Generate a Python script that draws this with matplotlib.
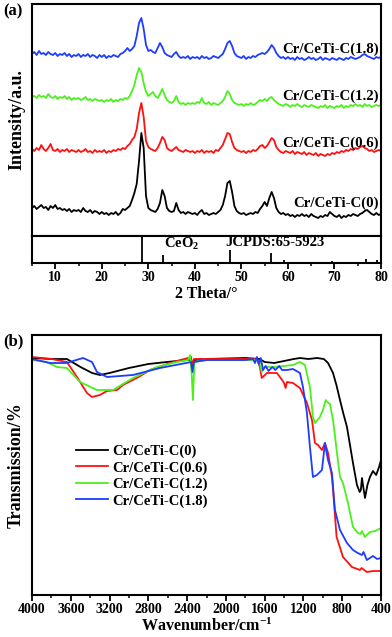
import numpy as np
import matplotlib
matplotlib.use("Agg")
import matplotlib.pyplot as plt

plt.rcParams["font.family"] = ["Liberation Serif", "DejaVu Serif"]
plt.rcParams["font.weight"] = "bold"
plt.rcParams["mathtext.fontset"] = "custom"
plt.rcParams["mathtext.rm"] = "Liberation Serif:bold"
plt.rcParams["mathtext.it"] = "Liberation Serif:bold"

# ---------------- (a) XRD ----------------
two_theta = np.linspace(5, 80, 151)  # 0.5 degree steps

xrd_0 = [28, 30, 27, 29, 31, 28, 29, 26, 30, 28,
         31, 27, 28, 26, 27, 25, 27, 24, 26, 25,
         26, 24, 28, 25, 24, 26, 23, 25, 24, 22,
         24, 22, 23, 21, 23, 22, 24, 21, 23, 27,
         26, 28, 30, 36, 43, 52, 75, 103, 88, 40,
         28, 26, 25, 24, 27, 33, 46, 40, 28, 25,
         24, 25, 33, 26, 23, 24, 22, 24, 23, 22,
         23, 21, 24, 26, 22, 23, 21, 22, 23, 22,
         24, 26, 31, 40, 53, 55, 44, 30, 25, 23,
         22, 23, 21, 22, 23, 22, 24, 23, 27, 30,
         34, 30, 38, 44, 38, 28, 24, 22, 23, 21,
         22, 20, 21, 19, 21, 20, 22, 20, 21, 19,
         22, 20, 19, 18, 20, 19, 21, 20, 24, 22,
         20, 19, 21, 18, 20, 19, 21, 20, 22, 21,
         20, 22, 23, 25, 26, 24, 22, 21, 23, 21,
         22]
xrd_06 = [26, 24, 27, 25, 30, 26, 24, 27, 31, 25,
          24, 26, 23, 25, 24, 26, 23, 25, 24, 23,
          25, 23, 24, 26, 23, 24, 22, 25, 23, 24,
          23, 25, 22, 24, 23, 25, 24, 26, 25, 27,
          26, 29, 31, 35, 38, 46, 62, 72, 58, 34,
          28, 26, 25, 24, 27, 32, 38, 35, 27, 25,
          24, 26, 28, 25, 24, 23, 25, 24, 23, 24,
          22, 24, 23, 25, 22, 24, 23, 24, 22, 25,
          24, 27, 30, 36, 42, 41, 33, 27, 25, 24,
          23, 24, 22, 24, 23, 25, 24, 26, 29, 30,
          27, 29, 33, 37, 35, 28, 25, 23, 22, 24,
          23, 22, 24, 21, 23, 22, 21, 23, 20, 22,
          21, 20, 22, 19, 21, 20, 19, 21, 20, 22,
          21, 23, 22, 24, 23, 25, 24, 26, 25, 27,
          26, 28, 29, 27, 26, 24, 25, 23, 24, 25,
          24]
xrd_12 = [30, 31, 29, 32, 30, 31, 29, 33, 30, 29,
          31, 28, 30, 29, 31, 28, 30, 27, 29, 28,
          29, 27, 28, 30, 27, 28, 26, 28, 27, 26,
          27, 25, 27, 26, 28, 25, 27, 26, 28, 27,
          29, 28, 31, 36, 42, 52, 59, 55, 44, 35,
          31, 33, 35, 31, 29, 33, 38, 32, 27, 25,
          24, 26, 31, 25, 23, 24, 22, 24, 23, 24,
          23, 25, 24, 29, 24, 23, 25, 22, 24, 23,
          22, 24, 26, 30, 36, 33, 27, 24, 23, 22,
          23, 21, 23, 22, 24, 22, 23, 25, 27, 26,
          28, 26, 29, 30, 27, 25, 23, 22, 21, 23,
          22, 20, 22, 21, 23, 21, 20, 22, 21, 20,
          22, 21, 20, 19, 21, 20, 22, 19, 21, 20,
          19, 21, 20, 22, 19, 21, 20, 22, 21, 23,
          21, 22, 20, 23, 21, 22, 20, 21, 22, 21,
          22]
xrd_18 = [27, 29, 26, 30, 27, 28, 26, 29, 27, 26,
          28, 25, 27, 26, 28, 25, 27, 24, 26, 25,
          27, 24, 26, 25, 27, 24, 26, 25, 23, 26,
          24, 26, 23, 25, 24, 26, 25, 24, 27, 28,
          30, 33, 30, 32, 35, 45, 58, 63, 52, 36,
          30, 31, 29, 28, 33, 38, 34, 28, 26, 25,
          24, 27, 29, 25, 23, 24, 23, 25, 22, 24,
          23, 24, 22, 25, 23, 24, 22, 23, 25, 24,
          23, 25, 27, 32, 38, 40, 35, 28, 25, 24,
          23, 25, 22, 24, 23, 25, 24, 26, 27, 28,
          27, 29, 32, 36, 33, 28, 25, 23, 24, 22,
          24, 22, 23, 21, 24, 22, 23, 21, 22, 24,
          22, 23, 21, 22, 24, 21, 23, 22, 21, 23,
          22, 21, 23, 22, 21, 23, 22, 24, 23, 22,
          23, 24, 26, 27, 25, 24, 23, 22, 24, 23,
          24]

xrd_labels = ["Cr/CeTi-C(0)", "Cr/CeTi-C(0.6)", "Cr/CeTi-C(1.2)", "Cr/CeTi-C(1.8)"]
colors = ["black", "#ff1010", "#4cf01c", "#1e3cff"]
offsets = [0, 61, 109, 155]

# CeO2 reference card JCPDS 65-5923
ref_pos = [28.55, 33.08, 47.48, 56.33, 59.08, 69.4, 76.7, 79.07]
ref_int = [100, 30, 48, 37, 11, 7, 15, 10]

# ---------------- (b) FTIR ----------------
wn_0 = [4000, 3800, 3640, 3500, 3380, 3300, 3200, 3000, 2800, 2610, 2400, 2360, 2345, 2330,
        2200, 1800, 1650, 1600, 1500, 1400, 1300, 1235, 1150, 1060, 990, 946, 895, 860, 823,
        790, 751, 720, 689, 648, 620, 608, 596, 586, 565, 540, 514, 483, 450, 420, 400]
t_0 = [237, 236, 236, 228, 222, 220, 222, 227, 231, 233, 235, 235, 230, 235,
       236, 237, 236, 233, 232, 234, 236, 237, 236, 237, 236, 232, 222, 210, 195,
       182, 168, 150, 132, 110, 103, 105, 117, 110, 97, 110, 118, 124, 120, 128, 135]

wn_06 = [4000, 3800, 3640, 3536, 3433, 3381, 3300, 3226, 3123, 3061, 2900, 2783, 2545, 2390,
         2360, 2345, 2330, 2000, 1680, 1650, 1630, 1577, 1474, 1420, 1400, 1384, 1370, 1308,
         1236, 1164, 1112, 1081, 1050, 1009, 978, 946, 906, 895, 858, 792, 700, 617, 600,
         546, 480, 400]
t_06 = [238, 236, 233, 218, 202, 198, 200, 204, 205, 210, 218, 225, 233, 237,
        238, 228, 236, 236, 236, 228, 217, 222, 222, 215, 212, 207, 213, 212,
        207, 192, 175, 152, 150, 145, 152, 142, 118, 105, 58, 38, 28, 25, 27,
        23, 24, 24]

wn_12 = [4000, 3850, 3742, 3640, 3505, 3330, 3164, 2958, 2711, 2505, 2390, 2370, 2355, 2340,
         2325, 2200, 1700, 1650, 1630, 1600, 1500, 1400, 1308, 1236, 1185, 1133, 1102, 1081,
         1030, 999, 970, 957, 926, 895, 854, 823, 792, 741, 689, 638, 610, 597, 566, 514,
         460, 400]
t_12 = [235, 233, 228, 227, 213, 205, 205, 217, 228, 233, 235, 240, 225, 195,
        233, 235, 235, 232, 223, 228, 228, 229, 230, 233, 230, 208, 178, 172,
        178, 185, 195, 193, 191, 175, 142, 118, 112, 92, 68, 62, 61, 64, 58, 63,
        64, 67]

wn_18 = [4000, 3814, 3640, 3577, 3474, 3381, 3330, 3226, 2958, 2680, 2410, 2360, 2345, 2330,
         2200, 1800, 1720, 1700, 1680, 1660, 1640, 1617, 1590, 1560, 1520, 1490, 1450, 1420,
         1370, 1308, 1236, 1205, 1164, 1133, 1102, 1061, 1009, 978, 947, 906, 875, 823,
         751, 689, 640, 597, 580, 546, 483, 440, 400]
t_18 = [236, 232, 232, 234, 237, 233, 223, 218, 220, 227, 232, 233, 223, 233,
        235, 235, 236, 232, 238, 231, 237, 225, 229, 224, 228, 225, 229, 225,
        225, 226, 222, 208, 182, 148, 118, 120, 125, 152, 135, 122, 85, 65,
        52, 45, 42, 40, 43, 35, 39, 36, 37]

ftir_wn = [wn_0, wn_06, wn_12, wn_18]
ftir_t = [t_0, t_06, t_12, t_18]

fig = plt.figure(figsize=(3.92, 6.37), dpi=100)
L, W = 32 / 392, 349 / 392
ax_a = fig.add_axes([L, 1 - 236 / 637, W, 232 / 637])
ax_r = fig.add_axes([L, 1 - 263 / 637, W, 27 / 637], sharex=ax_a)
ax_b = fig.add_axes([L, 1 - 595 / 637, W, 260 / 637])

for ax in (ax_a, ax_r, ax_b):
    for s in ax.spines.values():
        s.set_linewidth(1.5)

xrd = [xrd_0, xrd_06, xrd_12, xrd_18]
label_y = [203, 143, 96, 49]
for i in [3, 2, 1, 0]:
    ax_a.plot(two_theta, np.array(xrd[i]) + offsets[i], color=colors[i], lw=1.3)
for i in range(4):
    ax_a.text(0.993, 1 - (label_y[i] - 4) / 232, xrd_labels[i], transform=ax_a.transAxes,
              ha="right", va="center", fontsize=10.7, fontweight="bold")
ax_a.set_xlim(5, 80)
ax_a.set_ylim(0, 232)
ax_a.set_yticks([])
ax_a.tick_params(axis="x", which="both", length=0, labelbottom=False)
ax_a.set_ylabel("Intensity/a.u.", fontsize=13, fontweight="bold", labelpad=5)
fig.text(3 / 392, 1 - 11 / 637, "(a)", ha="left", va="center", fontsize=12, fontweight="bold")

ax_r.vlines(ref_pos, 0, ref_int, color="black", lw=1.3)
ax_r.set_ylim(0, 100)
ax_r.set_yticks([])
ax_r.set_xticks(np.arange(10, 81, 10))
ax_r.set_xticks(np.arange(5, 81, 5), minor=True)
ax_r.tick_params(axis="x", which="major", length=4, width=1.3, labelsize=10, pad=2)
ax_r.tick_params(axis="x", which="minor", length=2.5, width=1.1)
ax_r.text(33.4, 72, "CeO$_2$", ha="left", va="center", fontsize=10.5, fontweight="bold")
ax_r.text(46.6, 75, "JCPDS:65-5923", ha="left", va="center", fontsize=10.5, fontweight="bold")
ax_r.set_xlabel("2 Theta/\u00b0", fontsize=11.5, fontweight="bold", labelpad=1)
for lab in ax_r.get_xticklabels():
    lab.set_fontweight("bold")

for i in range(4):
    ax_b.plot(ftir_wn[i], ftir_t[i], color=colors[i], lw=1.3, label=xrd_labels[i])
ax_b.set_xlim(4000, 400)
ax_b.set_ylim(0, 260)
ax_b.set_yticks([])
ax_b.set_xticks(np.arange(4000, 399, -400))
ax_b.set_xticks(np.arange(4000, 399, -200), minor=True)
ax_b.tick_params(axis="x", which="major", length=4, width=1.3, labelsize=10, pad=2)
ax_b.tick_params(axis="x", which="minor", length=2.5, width=1.1)
for lab in ax_b.get_xticklabels():
    lab.set_fontweight("bold")
ax_b.set_xlabel("Wavenumber/cm$^{-1}$", fontsize=11.5, fontweight="bold", labelpad=1)
ax_b.set_ylabel("Transmission/%", fontsize=13, fontweight="bold", labelpad=5)
ax_b.legend(loc="upper left", bbox_to_anchor=(0.11, 0.6), frameon=False,
            prop={"size": 10.5, "weight": "bold"}, handlelength=2.2, handletextpad=0.25,
            labelspacing=0.2, borderaxespad=0)
fig.text(3 / 392, 1 - 341 / 637, "(b)", ha="left", va="center", fontsize=12, fontweight="bold")

fig.savefig("out.png", dpi=100)
